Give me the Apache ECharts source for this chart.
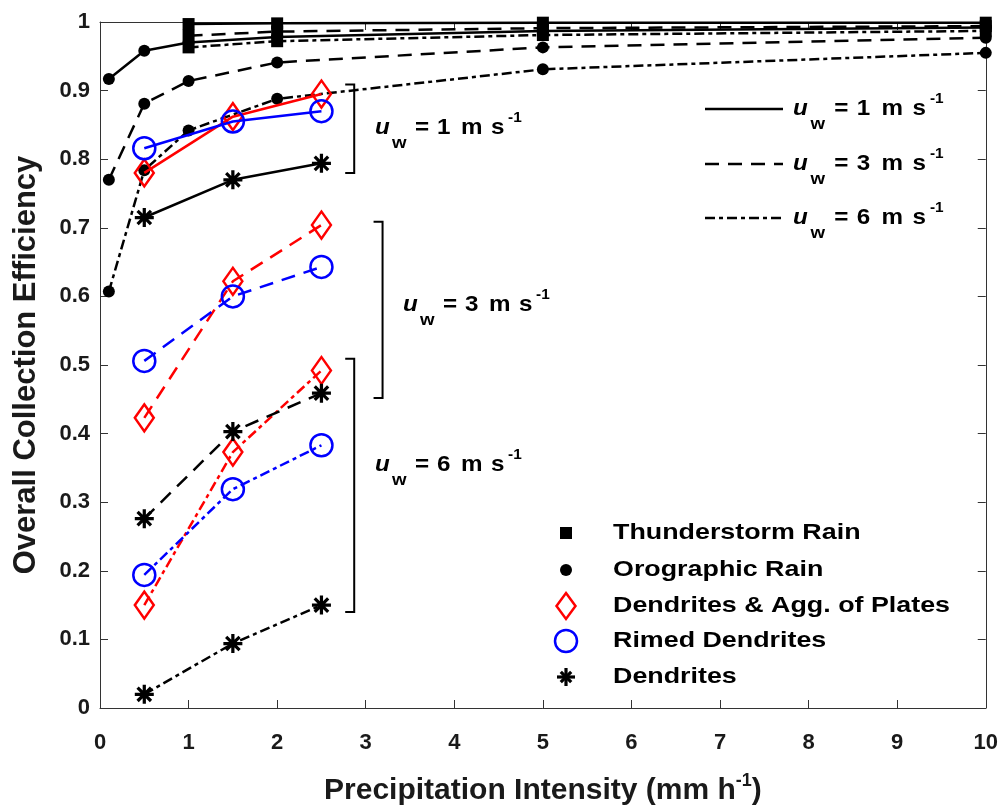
<!DOCTYPE html>
<html><head><meta charset="utf-8">
<script src="https://cdn.jsdelivr.net/npm/echarts/dist/echarts.min.js"></script>
<style>html,body{margin:0;padding:0;background:#fff}#c{width:1001px;height:811px}</style>
</head><body><div id="c"></div>
<script>
// ---------- data ----------
const uwValues = ['1', '3', '6'];
const thunderX = [1, 2, 5, 10];
const thunder_uw1 = [0.997, 0.998, 0.999, 0.999];
const thunder_uw3 = [0.980, 0.986, 0.991, 0.994];
const thunder_uw6 = [0.963, 0.972, 0.981, 0.987];
const oroX = [0.1, 0.5, 1, 2, 5, 10];
const oro_uw1 = [0.917, 0.958, 0.970, 0.978, 0.987, 0.992];
const oro_uw3 = [0.770, 0.881, 0.914, 0.941, 0.963, 0.977];
const oro_uw6 = [0.607, 0.784, 0.842, 0.888, 0.931, 0.955];
const snowX = [0.5, 1.5, 2.5];
const dagg_uw1 = [0.780, 0.862, 0.895];
const dagg_uw3 = [0.423, 0.622, 0.704];
const dagg_uw6 = [0.150, 0.373, 0.492];
const rimed_uw1 = [0.816, 0.855, 0.870];
const rimed_uw3 = [0.506, 0.600, 0.643];
const rimed_uw6 = [0.194, 0.319, 0.383];
const dend_uw1 = [0.715, 0.770, 0.794];
const dend_uw3 = [0.276, 0.403, 0.459];
const dend_uw6 = [0.020, 0.094, 0.150];
const speciesNames = ['Thunderstorm Rain', 'Orographic Rain', 'Dendrites & Agg. of Plates', 'Rimed Dendrites', 'Dendrites'];
// bracket annotation ranges (x position, [low, high]) in data units
const bracketX = [2.87, 3.19, 2.87];
const bracketY = [[0.780, 0.909], [0.452, 0.709], [0.140, 0.509]];
const xTickMin = 0, xTickMax = 10, xTickStep = 1;
const yTickMin = 0, yTickMax = 1, yTickStep = 0.1;

// ---------- styles ----------
const FONT = '"Liberation Sans", Arial, sans-serif';
const TXT = '#1a1a1a';
const AX = '#333333';
const LW = 2.5;
const dashOf = {'1': 'solid', '3': [14, 9], '6': [10, 4, 4, 4]};
const ASTER = 'path://M0 8.3L20 8.3L20 11.7L0 11.7Z M8.3 0L11.7 0L11.7 20L8.3 20Z M1.73 4.13L4.13 1.73L18.27 15.87L15.87 18.27Z M15.87 1.73L18.27 4.13L4.13 18.27L1.73 15.87Z';

const kinds = [
  {name: speciesNames[0], xs: thunderX, ys: [thunder_uw1, thunder_uw3, thunder_uw6], symbol: 'rect', size: 12, color: '#000', hollow: false},
  {name: speciesNames[1], xs: oroX, ys: [oro_uw1, oro_uw3, oro_uw6], symbol: 'circle', size: 12, color: '#000', hollow: false},
  {name: speciesNames[2], xs: snowX, ys: [dagg_uw1, dagg_uw3, dagg_uw6], symbol: 'diamond', size: [19, 27], color: '#ff0000', hollow: true},
  {name: speciesNames[3], xs: snowX, ys: [rimed_uw1, rimed_uw3, rimed_uw6], symbol: 'circle', size: 22, color: '#0000ff', hollow: true},
  {name: speciesNames[4], xs: snowX, ys: [dend_uw1, dend_uw3, dend_uw6], symbol: ASTER, size: 19, color: '#000', hollow: false}
];

const series = [];
kinds.forEach((k, ki) => {
  k.ys.forEach((vals, ui) => {
    series.push({
      type: 'line',
      name: k.name + ' (u_w = ' + uwValues[ui] + ' m/s)',
      data: k.xs.map((x, i) => [x, vals[i]]),
      symbol: k.symbol,
      symbolSize: k.size,
      showSymbol: true,
      clip: false,
      z: 2 + ki,
      lineStyle: {color: k.color, width: LW, type: dashOf[uwValues[ui]]},
      itemStyle: k.hollow
        ? {color: 'rgba(255,255,255,0)', borderColor: k.color, borderWidth: 2.5, opacity: 1}
        : {color: k.color, borderWidth: 0},
      emphasis: {disabled: true},
      animation: false
    });
  });
});

const axisCommon = {
  type: 'value',
  splitLine: {show: false},
  axisLine: {show: true, onZero: false, lineStyle: {color: AX, width: 1}},
  axisTick: {show: true, inside: true, length: 8, lineStyle: {color: AX, width: 1}}
};

const chart = echarts.init(document.getElementById('c'), null, {renderer: 'canvas'});
chart.setOption({
  animation: false,
  backgroundColor: '#fff',
  grid: {left: 100, top: 22, width: 888, height: 695, containLabel: false},
  xAxis: [
    Object.assign({}, axisCommon, {
      position: 'bottom', min: xTickMin, max: xTickMax, interval: xTickStep,
      axisLabel: {fontFamily: FONT, fontWeight: 'bold', fontSize: 22, color: TXT, margin: 24},
      name: '{a|Precipitation Intensity (mm h}{s|-1}{a|)}',
      nameLocation: 'middle', nameGap: 64,
      nameTextStyle: {
        rich: {
          a: {fontFamily: FONT, fontWeight: 'bold', fontSize: 30, color: TXT, lineHeight: 38, verticalAlign: 'middle'},
          s: {fontFamily: FONT, fontWeight: 'bold', fontSize: 18, color: TXT, lineHeight: 22, verticalAlign: 'top'}
        }
      }
    }),
    Object.assign({}, axisCommon, {
      position: 'top', min: xTickMin, max: xTickMax, interval: xTickStep,
      axisLabel: {show: false}
    })
  ],
  yAxis: [
    Object.assign({}, axisCommon, {
      position: 'left', min: yTickMin, max: yTickMax, interval: yTickStep,
      axisLabel: {fontFamily: FONT, fontWeight: 'bold', fontSize: 22, color: TXT, margin: 10,
        formatter: v => (v === 0 || v === 1) ? String(v) : v.toFixed(1)},
      name: 'Overall Collection Efficiency',
      nameLocation: 'middle', nameGap: 58, nameRotate: 90,
      nameTextStyle: {fontFamily: FONT, fontWeight: 'bold', fontSize: 31, color: TXT}
    }),
    Object.assign({}, axisCommon, {
      position: 'right', min: yTickMin, max: yTickMax, interval: yTickStep,
      axisLabel: {show: false}
    })
  ],
  series: series
});

// ---------- annotations & legends ----------
function uwText(x0, yc, digit, k, sc) {
  const base = {fontFamily: FONT, fontWeight: 'bold', fill: '#000', verticalAlign: 'middle', align: 'left'};
  const t = (dx, dy, text, size, extra) => ({
    type: 'text', x: x0 + dx * k, y: yc + dy, scaleX: sc, z: 100,
    style: Object.assign({}, base, {text: text, fontSize: size}, extra || {})
  });
  return [
    t(0, 0, 'u', 22, {fontStyle: 'italic'}),
    t(17, 15, 'w', 17),
    t(40, 0, '=', 22),
    t(62, 0, digit, 22),
    t(86, 0, 'm', 22),
    t(116, 0, 's', 22),
    t(133, -10, '-1', 14)
  ];
}

const g = [];
// bracket annotations from data coordinates
bracketX.forEach((bx, i) => {
  const top = chart.convertToPixel({gridIndex: 0}, [bx, bracketY[i][1]]);
  const bot = chart.convertToPixel({gridIndex: 0}, [bx, bracketY[i][0]]);
  g.push({type: 'polyline', z: 100, shape: {points: [[top[0] - 9, top[1]], [top[0], top[1]], [bot[0], bot[1]], [bot[0] - 9, bot[1]]]},
    style: {stroke: '#000', lineWidth: 2, fill: null}});
});
uwText(375, 128, '1', 1, 1.1).forEach(e => g.push(e));
uwText(403, 305, '3', 1, 1.1).forEach(e => g.push(e));
uwText(375, 465, '6', 1, 1.1).forEach(e => g.push(e));

// line-style legend
const legRows = [109, 164, 218];
legRows.forEach((y, i) => {
  g.push({type: 'line', z: 100, shape: {x1: 705, y1: y, x2: 783, y2: y},
    style: {stroke: '#000', lineWidth: LW, lineDash: dashOf[uwValues[i]] === 'solid' ? null : dashOf[uwValues[i]]}});
  uwText(793, y, uwValues[i], 1.03, 1.1).forEach(e => g.push(e));
});

// marker legend
const mk = [533, 570, 606, 641, 677];
const mx = 566;
g.push({type: 'rect', z: 100, shape: {x: mx - 6, y: mk[0] - 6, width: 12, height: 12}, style: {fill: '#000'}});
g.push({type: 'circle', z: 100, shape: {cx: mx, cy: mk[1], r: 6}, style: {fill: '#000'}});
g.push({type: 'polygon', z: 100, shape: {points: [[mx, mk[2] - 13], [mx + 9.5, mk[2]], [mx, mk[2] + 13], [mx - 9.5, mk[2]]]}, style: {fill: null, stroke: '#ff0000', lineWidth: 2.5}});
g.push({type: 'circle', z: 100, shape: {cx: mx, cy: mk[3], r: 11}, style: {fill: null, stroke: '#0000ff', lineWidth: 2.5}});
[0, 45, 90, 135].forEach(a => {
  const r = a * Math.PI / 180, L = 9, dx = Math.cos(r) * L, dy = Math.sin(r) * L;
  const Ld = (a % 90 === 0) ? 1 : 0.82;
  g.push({type: 'line', z: 100, shape: {x1: mx - dx * Ld, y1: mk[4] - dy * Ld, x2: mx + dx * Ld, y2: mk[4] + dy * Ld},
    style: {stroke: '#000', lineWidth: 3.2}});
});
speciesNames.forEach((n, i) => {
  g.push({type: 'text', x: 613, y: mk[i], scaleX: 1.22, z: 100,
    style: {text: n, fontFamily: FONT, fontWeight: 'bold', fontSize: 22, fill: '#000', verticalAlign: 'middle', align: 'left'}});
});

chart.setOption({graphic: g});
</script>
</body></html>
